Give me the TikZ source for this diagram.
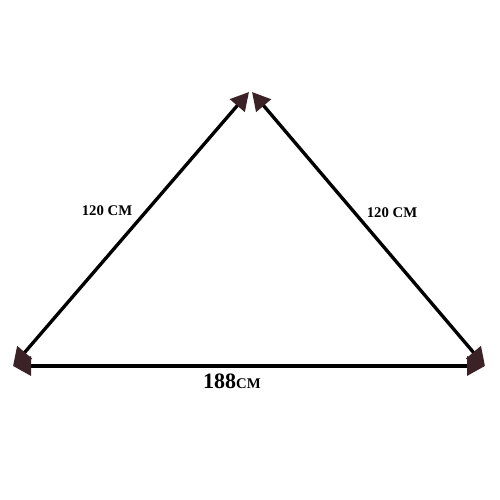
\documentclass[tikz,border=0pt]{standalone}
\usepackage{fontspec}
\setmainfont{Liberation Serif}
\usepackage{xcolor}
\definecolor{headbrown}{RGB}{58,34,38}
\usepackage{tikz}
\usetikzlibrary{arrows.meta}
\tikzset{
    side/.style={line width=1.9pt, black, {Triangle[length=3.6mm, width=3.8mm, color=headbrown]}-{Triangle[length=3.6mm, width=3.8mm, color=headbrown]}},
    measure/.style={font=\fontsize{8.4}{8.4}\selectfont\bfseries, inner sep=1pt}
}
\begin{document}
\begin{tikzpicture}
    \useasboundingbox (0,0) rectangle (10,10);

    \path
        coordinate (apex-l) at (4.98,8.16)
        coordinate (apex-r) at (5.04,8.16)
        coordinate (corner-l) at (0.26,2.68)
        coordinate (corner-r) at (9.70,2.68);

    \draw[side] (apex-l) -- (corner-l);
    \draw[side] (apex-r) -- (corner-r);
    \draw[side] (corner-l) -- (corner-r);

    \node[measure] (len-l) at (2.14,5.78) {120 CM};
    \node[measure] (len-r) at (7.84,5.75) {120 CM};
    \node[measure] (len-b) at (4.64,2.38) {{\fontsize{12.5}{12.5}\selectfont 188}{\fontsize{8.4}{8.4}\selectfont CM}};
\end{tikzpicture}
\end{document}
